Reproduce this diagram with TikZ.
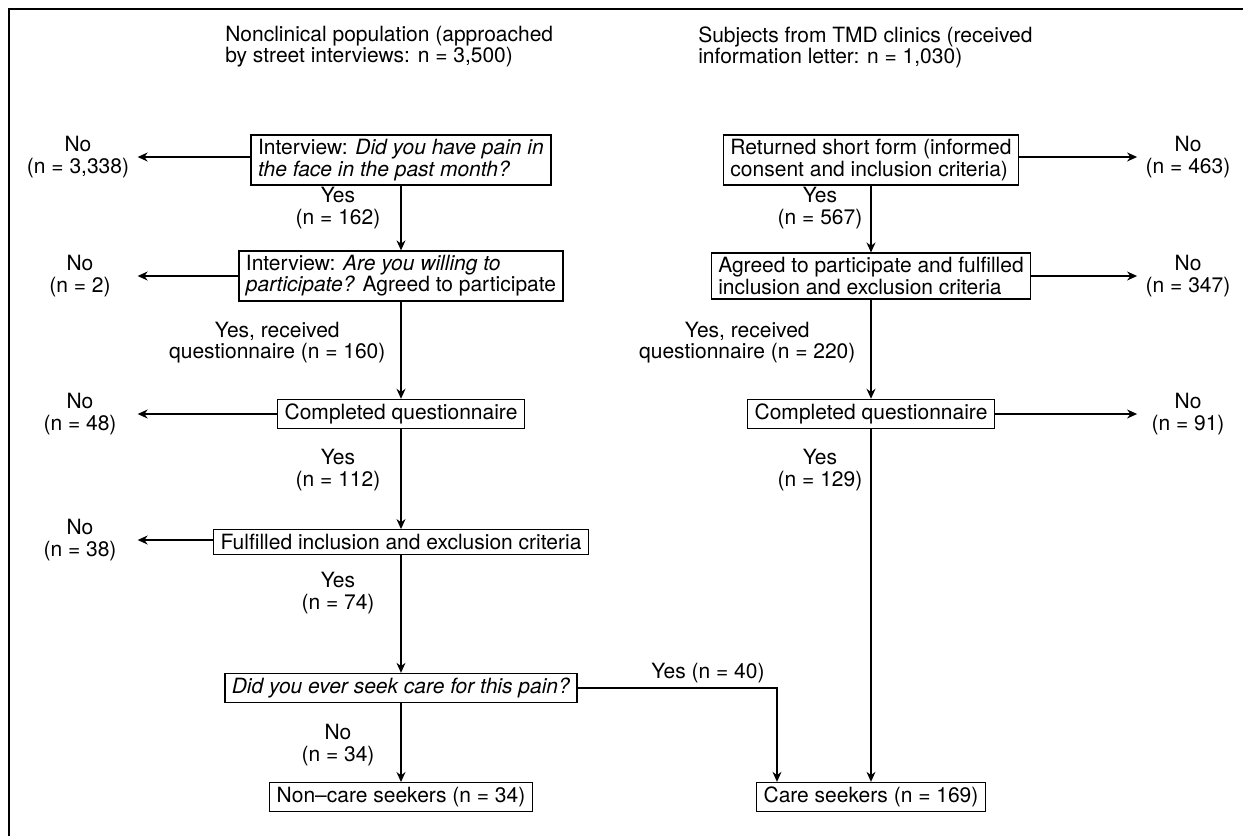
\documentclass[tikz,border=0pt]{standalone}
\usepackage{fontspec}
\setmainfont{TeX Gyre Heros}
\usetikzlibrary{arrows.meta}
\begin{document}
\begin{tikzpicture}[x=0.5pt, y=-0.5pt, line width=0.6pt,
  font=\fontsize{10.5}{10.6}\selectfont,
  box/.style={rectangle, draw, line width=0.7pt, inner xsep=3.5pt, inner ysep=2.2pt, align=left},
  lbl/.style={align=center, inner sep=1pt},
  arr/.style={-{Stealth[length=5pt, width=4.5pt]}}]
\useasboundingbox (0,0) rectangle (1243,836);
% Frame
\draw[line width=0.9pt] (9,836) -- (9,9) -- (1243,9);

% Titles
\node (ltitle) [anchor=west, align=left] at (218,47) {Nonclinical population (approached\\by street interviews: n = 3,500)};
\node (rtitle) [anchor=west, align=left] at (691,47) {Subjects from TMD clinics (received\\information letter: n = 1,030)};

% Nonclinical side
\node (q1) [box] at (401,160) {Interview: \textit{Did you have pain in}\\\textit{the face in the past month?}};
\node (q2) [box] at (401,276) {Interview: \textit{Are you willing to}\\\textit{participate?} Agreed to participate};
\node (q3) [box] at (401,414) {Completed questionnaire};
\node (q4) [box] at (401,542) {Fulfilled inclusion and exclusion criteria};
\node (q5) [box] at (401,688) {\textit{Did you ever seek care for this pain?}};
\node (noncare) [box] at (401,797) {Non--care seekers (n = 34)};

\node (n1) [lbl] at (78,157) {No\\(n = 3,338)};
\node (n2) [lbl] at (80,276) {No\\(n = 2)};
\node (n3) [lbl] at (80,414) {No\\(n = 48)};
\node (n4) [lbl] at (80,540) {No\\(n = 38)};

\node (y1) [lbl] at (338,208) {Yes\\(n = 162)};
\node (y2) [lbl, anchor=east] at (388,343) {Yes, received\\questionnaire (n = 160)};
\node (y3) [lbl] at (338,470) {Yes\\(n = 112)};
\node (y4) [lbl] at (338,593) {Yes\\(n = 74)};
\node (n5) [lbl] at (338,745) {No\\(n = 34)};

% Clinic side
\node (r1) [box] at (871,160) {Returned short form (informed\\consent and inclusion criteria)};
\node (r2) [box] at (871,276) {Agreed to participate and fulfilled\\inclusion and exclusion criteria};
\node (r3) [box] at (871,414) {Completed questionnaire};
\node (care) [box] at (871,797) {Care seekers (n = 169)};

\node (m1) [lbl] at (1188,157) {No\\(n = 463)};
\node (m2) [lbl] at (1188,276) {No\\(n = 347)};
\node (m3) [lbl] at (1188,414) {No\\(n = 91)};

\node (z1) [lbl] at (820,208) {Yes\\(n = 567)};
\node (z2) [lbl, anchor=east] at (858,343) {Yes, received\\questionnaire (n = 220)};
\node (z3) [lbl] at (820,470) {Yes\\(n = 129)};
\node (yes40) [lbl] at (708,673) {Yes (n = 40)};
\coordinate (join) at (777,688);

% Arrows down
\draw [arr] (q1) -- (q2);
\draw [arr] (q2) -- (q3);
\draw [arr] (q3) -- (q4);
\draw [arr] (q4) -- (q5);
\draw [arr] (q5) -- (noncare);
\draw [arr] (r1) -- (r2);
\draw [arr] (r2) -- (r3);
\draw [arr] (r3) -- (care);
\draw [arr] (q5.east) -- (join) -- (join |- care.north);

% Arrows out (no)
\draw [arr] (n1 -| q1.west) -- ([xshift=3pt]n1.east);
\draw [arr] (n2 -| q2.west) -- ([xshift=3pt]n2.east -| n1.east);
\draw [arr] (n3 -| q3.west) -- ([xshift=3pt]n3.east -| n1.east);
\draw [arr] (n4 -| q4.west) -- ([xshift=3pt]n4.east -| n1.east);
\draw [arr] (m1 -| r1.east) -- ([xshift=-3pt]m1.west);
\draw [arr] (m2 -| r2.east) -- ([xshift=-3pt]m2.west -| m1.west);
\draw [arr] (m3 -| r3.east) -- ([xshift=-3pt]m3.west -| m1.west);
\end{tikzpicture}
\end{document}
